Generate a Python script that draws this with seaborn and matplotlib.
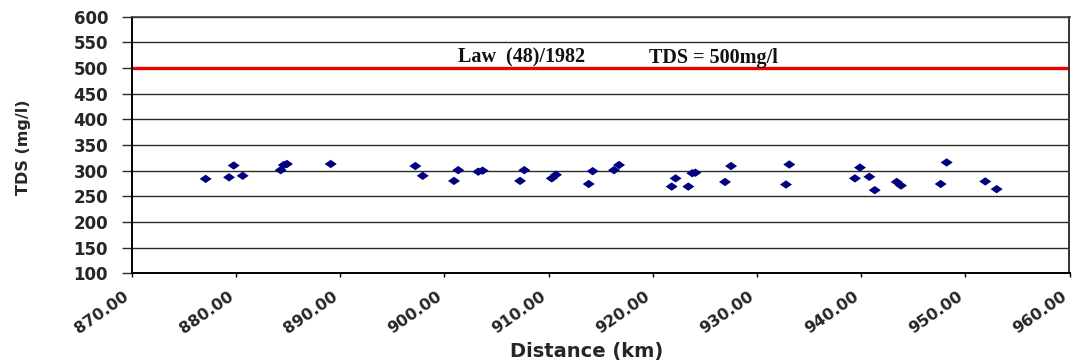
import numpy as np
import pandas as pd
import matplotlib
matplotlib.use("Agg")
import matplotlib.pyplot as plt
import seaborn as sns

# ---- data ----
distance_km = [877.10, 879.79, 879.34, 880.65, 884.30, 884.60, 884.90, 889.10,
               897.22, 897.93, 900.93, 901.34, 903.26, 903.68, 907.68, 907.27,
               910.31, 910.72, 913.86, 914.24, 916.29, 916.77, 921.82, 922.20,
               923.42, 923.80, 924.10, 926.94, 927.52, 933.11, 932.79, 939.89,
               939.41, 940.79, 941.31, 943.42, 943.83, 947.64, 948.21, 951.92,
               953.01]
tds_mgl = [284, 310, 287, 290, 301, 311, 313, 313,
           309, 290, 280, 301, 298, 300, 301, 280,
           285, 292, 274, 299, 301, 311, 269, 285,
           269, 295, 296, 278, 309, 312, 273, 306,
           285, 288, 262, 278, 271, 274, 316, 279,
           264]
limit_value = 500
law_text = "Law  (48)/1982"
limit_text = "TDS = 500mg/l"
x_ticks = [870, 880, 890, 900, 910, 920, 930, 940, 950, 960]
y_ticks = [100, 150, 200, 250, 300, 350, 400, 450, 500, 550, 600]
x_label = "Distance (km)"
y_label = "TDS (mg/l)"

df = pd.DataFrame({"Distance": distance_km, "TDS": tds_mgl})

sns.set_theme(style="white")
plt.rcParams["font.family"] = ["DejaVu Sans"]

W, H = 1077, 364
fig = plt.figure(figsize=(W / 100, H / 100), dpi=100)
ax = fig.add_axes([131.7 / W, 1 - 273.3 / H, (1069.5 - 131.7) / W, (273.3 - 16.7) / H])

ax.set_xlim(870, 960)
ax.set_ylim(100, 600)
ax.set_yticks(y_ticks)
ax.set_xticks(x_ticks)
ax.set_xticklabels([f"{v:.2f}" for v in x_ticks])

# gridlines
ax.yaxis.grid(True, color="#2a2a2a", linewidth=1.0)
ax.xaxis.grid(False)
ax.set_axisbelow(True)

# limit line
ax.axhline(limit_value, color="#ee0000", linewidth=2.4, zorder=2)

diamond = [(-1, 0), (0, -0.7), (1, 0), (0, 0.7), (-1, 0)]
sns.scatterplot(data=df, x="Distance", y="TDS", ax=ax, marker=diamond, s=75,
                color="#000080", edgecolor="none", linewidth=0, zorder=3)

# annotation text
ax.text(870 + (458 - 131.7) / 10.42, 510, law_text, family="Liberation Serif",
        fontweight="bold", fontsize=14.5, ha="left", va="baseline", color="#111111")
ax.text(870 + (649 - 131.7) / 10.42, 510, limit_text, family="Liberation Serif",
        fontweight="bold", fontsize=14.5, ha="left", va="baseline", color="#111111")

# spines
for side in ["left", "bottom"]:
    ax.spines[side].set_color("black")
    ax.spines[side].set_linewidth(1.4)
    ax.spines[side].set_visible(True)
ax.spines["right"].set_color("#333333")
ax.spines["right"].set_linewidth(1.4)
ax.spines["top"].set_color("#444444")
ax.spines["top"].set_linewidth(1.2)

ax.tick_params(axis="y", direction="out", length=7, width=1.0, color="#2a2a2a",
               pad=10, labelsize=12, left=True)
ax.tick_params(axis="x", direction="out", length=3, width=1.0, color="black",
               pad=8, labelsize=11.5, bottom=True)
for lab in ax.get_yticklabels():
    lab.set_fontweight("bold")
for lab in ax.get_xticklabels():
    lab.set_fontweight("bold")
    lab.set_rotation(35)
    lab.set_ha("right")

ax.set_xlabel(x_label, fontsize=14, fontweight="bold")
ax.set_ylabel(y_label, fontsize=11.5, fontweight="bold")
ax.xaxis.set_label_coords((587 - 131.7) / 937.8, (273.3 - 351) / 256.6)
ax.xaxis.label.set_va("center")
ax.yaxis.set_label_coords((23 - 131.7) / 937.8, 0.49)
ax.yaxis.label.set_va("center")

fig.savefig("out.png", dpi=100, facecolor="white")
